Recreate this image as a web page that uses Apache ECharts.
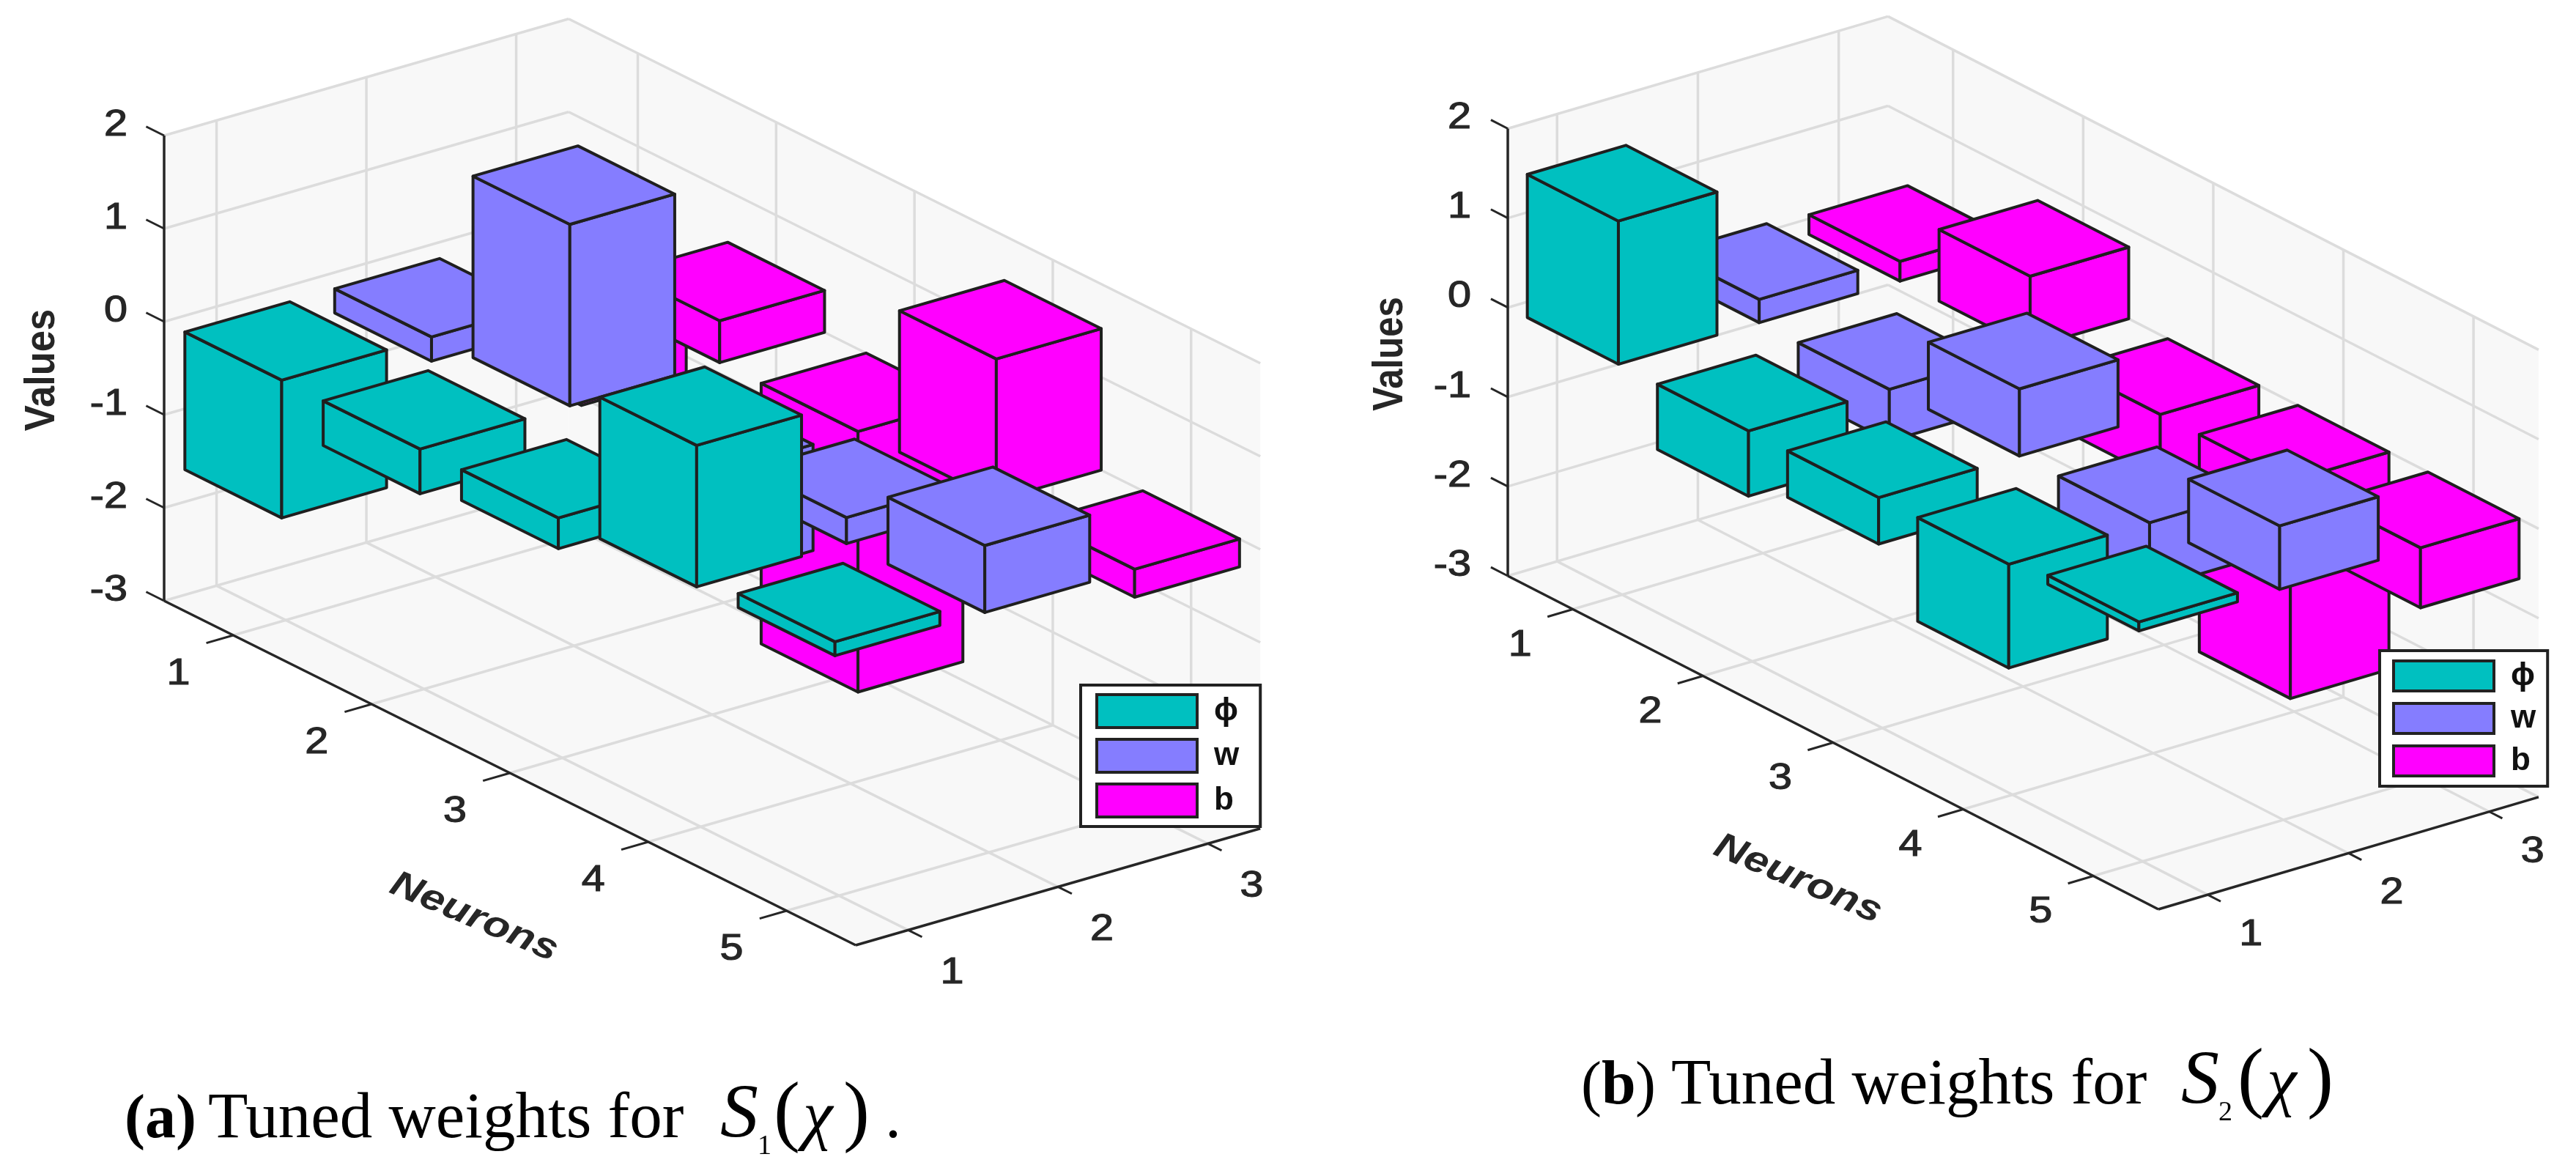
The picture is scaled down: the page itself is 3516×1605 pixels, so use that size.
<!DOCTYPE html>
<html>
<head>
<meta charset="utf-8">
<title>Tuned weights</title>
<style>
  html, body { margin: 0; padding: 0; background: #fff; }
  #chart-container { width: 3516px; height: 1605px; }
</style>
</head>
<body>
<div id="chart-container"></div>
<script src="https://cdn.jsdelivr.net/npm/echarts@6/dist/echarts.min.js"></script>
<script type="text/javascript">
// values, one per neuron
var neurons = [1, 2, 3, 4, 5];
var columns = [1, 2, 3];
var zTicks = [-3, -2, -1, 0, 1, 2];
var seriesNames = ['\u03d5', 'w', 'b'];

var phiS1 = [-1.48, -0.48, -0.33, 1.52, 0.15];
var wS1 = [-0.26, 1.95, -1.14, 0.28, 0.72];
var bS1 = [-1.2, 0.45, -2.8, 1.52, -0.3];

var phiS2 = [1.6, -0.73, -0.52, -1.16, 0.1];
var wS2 = [0.26, -0.58, 0.75, -0.74, 0.71];
var bS2 = [0.22, 0.8, -0.73, -2.43, -0.67];

var colors = ['#00C0C0', '#857DFF', '#FF00FF'];
var edgeColor = '#1f1f1f';
var barWidth = 0.7;
var nRange = [0.5, 5.5];
var cRange = [0.65, 3.35];

// where each 3d box sits on the page
var panels = [
  {
    values: [phiS1, wS1, bS1],
    left: 224, floorY: 820, nDx: 188.8, nDy: 94, cDx: 204.5, cDy: -59, zPx: 127,
    nLabel: [-75, 53], cLabel: [60, 59], zLabel: [-50, -14],
    valuesPos: [58, 505], valuesScale: 1.05, neuronsPos: [647, 1252],
    legend: { left: 1475, top: 935, pad: [11, 29, 11, 20], gap: 12, h: 45 }
  },
  {
    values: [phiS2, wS2, bS2],
    left: 2058, floorY: 786, nDx: 177.6, nDy: 91, cDx: 192.2, cDy: -56.7, zPx: 122.1,
    nLabel: [-72, 50], cLabel: [59, 55], zLabel: [-50, -14],
    valuesPos: [1898, 483], valuesScale: 0.98, neuronsPos: [2454, 1200],
    legend: { left: 3248, top: 888, pad: [12, 16, 12, 17], gap: 13, h: 41 }
  }
];

// oblique projection: (neuron, column, value) -> the hidden 2d axes of the panel
function project(p, n, c, z) {
  var dn = n - nRange[0];
  var dc = c - cRange[0];
  return [
    dn + dc * p.cDx / p.nDx,
    z - dn * p.nDy / p.zPx - dc * p.cDy / p.zPx
  ];
}

function poly(points, fill, stroke, lineWidth) {
  return {
    type: 'polygon',
    shape: { points: points },
    style: { fill: fill, stroke: stroke, lineWidth: lineWidth, lineJoin: 'round' }
  };
}

function line(a, b, color, lineWidth) {
  return {
    type: 'line',
    shape: { x1: a[0], y1: a[1], x2: b[0], y2: b[1] },
    style: { stroke: color, lineWidth: lineWidth }
  };
}

function label(text, x, y, size, opts) {
  opts = opts || {};
  return {
    type: 'text',
    x: x,
    y: y,
    rotation: opts.rotation || 0,
    scaleX: opts.scaleX || 1,
    scaleY: opts.scaleY || 1,
    style: {
      text: text,
      fontSize: size,
      fontFamily: 'Liberation Sans',
      fontWeight: opts.weight || 'normal',
      fontStyle: opts.style || 'normal',
      fill: '#262626',
      stroke: opts.heavy ? '#262626' : null,
      lineWidth: opts.heavy ? 1.2 : 0,
      align: opts.align || 'center',
      verticalAlign: 'middle'
    }
  };
}

// walls, floor, grid lines, axis lines, ticks and their labels
function renderFrame(p, api) {
  var P = function (n, c, z) { return api.coord(project(p, n, c, z)); };
  var n0 = nRange[0], n1 = nRange[1], c0 = cRange[0], c1 = cRange[1];
  var z0 = zTicks[0], z1 = zTicks[zTicks.length - 1];
  var wall = '#F8F8F8', gridLine = '#DCDCDC', axisLine = '#262626';
  var els = [];

  els.push(poly([P(n0, c0, z0), P(n1, c0, z0), P(n1, c1, z0), P(n0, c1, z0)], wall));
  els.push(poly([P(n0, c0, z0), P(n0, c1, z0), P(n0, c1, z1), P(n0, c0, z1)], wall));
  els.push(poly([P(n0, c1, z0), P(n1, c1, z0), P(n1, c1, z1), P(n0, c1, z1)], wall));

  zTicks.forEach(function (z) {
    els.push(line(P(n0, c0, z), P(n0, c1, z), gridLine, 3.5));
    els.push(line(P(n0, c1, z), P(n1, c1, z), gridLine, 3.5));
  });
  neurons.forEach(function (n) {
    els.push(line(P(n, c0, z0), P(n, c1, z0), gridLine, 3.5));
    els.push(line(P(n, c1, z0), P(n, c1, z1), gridLine, 3.5));
  });
  columns.forEach(function (c) {
    els.push(line(P(n0, c, z0), P(n1, c, z0), gridLine, 3.5));
    els.push(line(P(n0, c, z0), P(n0, c, z1), gridLine, 3.5));
  });

  els.push(line(P(n0, c0, z0), P(n0, c0, z1), axisLine, 3.5));
  els.push(line(P(n0, c0, z0), P(n1, c0, z0), axisLine, 3.5));
  els.push(line(P(n1, c0, z0), P(n1, c1, z0), axisLine, 3.5));

  zTicks.forEach(function (z) {
    var a = P(n0, c0, z);
    els.push(line(a, P(n0 - 0.13, c0, z), axisLine, 3));
    els.push(label(String(z), a[0] + p.zLabel[0], a[1] + p.zLabel[1], 50, { align: 'right', scaleX: 1.15, heavy: true }));
  });
  neurons.forEach(function (n) {
    var a = P(n, c0, z0);
    els.push(line(a, P(n, c0 - 0.18, z0), axisLine, 3));
    els.push(label(String(n), a[0] + p.nLabel[0], a[1] + p.nLabel[1], 50, { scaleX: 1.15, heavy: true }));
  });
  columns.forEach(function (c) {
    var a = P(n1, c, z0);
    els.push(line(a, P(n1 + 0.1, c, z0), axisLine, 3));
    els.push(label(String(c), a[0] + p.cLabel[0], a[1] + p.cLabel[1], 50, { scaleX: 1.15, heavy: true }));
  });

  els.push(label('Values', p.valuesPos[0], p.valuesPos[1], 50, { rotation: Math.PI / 2, weight: 'bold', scaleX: p.valuesScale, scaleY: 1.15 }));
  els.push(label('Neurons', p.neuronsPos[0], p.neuronsPos[1], 50, { rotation: -23 * Math.PI / 180, style: 'italic', weight: 'bold', scaleX: 1.2 }));

  return { type: 'group', children: els };
}

// one box: the top and the two faces the viewer can see
function renderBar(p, column, api) {
  var n = api.value(0);
  var v = api.value(1);
  var h = barWidth / 2;
  var top = Math.max(v, 0);
  var bottom = Math.min(v, 0);
  var fill = api.visual('color');
  var P = function (a, b, z) { return api.coord(project(p, a, b, z)); };
  var lw = 4;
  return {
    type: 'group',
    children: [
      poly([P(n - h, column - h, top), P(n + h, column - h, top), P(n + h, column - h, bottom), P(n - h, column - h, bottom)], fill, edgeColor, lw),
      poly([P(n + h, column - h, top), P(n + h, column + h, top), P(n + h, column + h, bottom), P(n + h, column - h, bottom)], fill, edgeColor, lw),
      poly([P(n - h, column - h, top), P(n - h, column + h, top), P(n + h, column + h, top), P(n + h, column - h, top)], fill, edgeColor, lw)
    ]
  };
}

var grids = [], xAxes = [], yAxes = [], series = [], legends = [];

panels.forEach(function (p, i) {
  var nSpan = nRange[1] - nRange[0], cSpan = cRange[1] - cRange[0];
  var width = nSpan * p.nDx + cSpan * p.cDx;
  var zMax = zTicks[zTicks.length - 1];
  var yMax = project(p, nRange[0], cRange[1], zMax)[1];
  var yMin = project(p, nRange[1], cRange[0], zTicks[0])[1];
  var top = p.floorY - (yMax - zTicks[0]) * p.zPx;

  grids.push({ left: p.left, top: top, width: width, height: (yMax - yMin) * p.zPx, show: false });
  xAxes.push({ gridIndex: i, type: 'value', min: 0, max: width / p.nDx, show: false });
  yAxes.push({ gridIndex: i, type: 'value', min: yMin, max: yMax, show: false });

  series.push({
    type: 'custom',
    name: 'frame' + i,
    xAxisIndex: i,
    yAxisIndex: i,
    silent: true,
    data: [[0, 0]],
    renderItem: function (params, api) { return renderFrame(p, api); }
  });

  // far column first so the nearer boxes paint over it
  [2, 1, 0].forEach(function (k) {
    series.push({
      type: 'custom',
      name: seriesNames[k],
      xAxisIndex: i,
      yAxisIndex: i,
      silent: true,
      itemStyle: { color: colors[k] },
      encode: { x: 0, y: 1 },
      data: neurons.map(function (n, j) { return [n, p.values[k][j]]; }),
      renderItem: function (params, api) { return renderBar(p, columns[k], api); }
    });
  });

  legends.push({
    data: seriesNames,
    orient: 'vertical',
    left: p.legend.left,
    top: p.legend.top,
    padding: p.legend.pad,
    itemGap: p.legend.gap,
    itemWidth: 137,
    itemHeight: p.legend.h,
    selectedMode: false,
    backgroundColor: '#fff',
    borderColor: '#222',
    borderWidth: 4,
    borderRadius: 0,
    icon: 'rect',
    itemStyle: { borderColor: '#222', borderWidth: 4 },
    textStyle: {
      fontFamily: 'Liberation Sans',
      fontWeight: 'bold',
      fontSize: 44,
      lineHeight: 30,
      color: '#111',
      padding: [0, 0, 0, 18]
    }
  });
});

// captions under the panels, y is the text baseline
function cap(text, x, y, size, opts) {
  opts = opts || {};
  return {
    type: 'text',
    x: x,
    y: y - 0.34 * size,
    z: 10,
    style: {
      text: text,
      fontFamily: 'Liberation Serif',
      fontSize: size,
      fontWeight: opts.weight || 'normal',
      fontStyle: opts.style || 'normal',
      fill: '#000',
      align: 'left',
      verticalAlign: 'middle'
    }
  };
}

var captions = [
  cap('(a)', 170, 1559, 84, { weight: 'bold' }),
  cap('Tuned weights for', 284, 1559, 89),
  cap('S', 983, 1559, 104, { style: 'italic' }),
  cap('1', 1034, 1578, 38),
  cap('(', 1056, 1559, 108),
  cap('\u03c7', 1096, 1559, 92, { style: 'italic' }),
  cap(')', 1151, 1559, 108),
  cap('.', 1208, 1559, 88),

  cap('(', 2158, 1513, 84),
  cap('b', 2186, 1513, 84, { weight: 'bold' }),
  cap(')', 2232, 1513, 84),
  cap('Tuned weights for', 2281, 1513, 89),
  cap('S', 2977, 1513, 104, { style: 'italic' }),
  cap('2', 3028, 1532, 38),
  cap('(', 3054, 1513, 108),
  cap('\u03c7', 3094, 1513, 92, { style: 'italic' }),
  cap(')', 3149, 1513, 108)
];

var dom = document.getElementById('chart-container');
var myChart = echarts.init(dom, null, { renderer: 'canvas' });

var option = {
  animation: false,
  backgroundColor: '#fff',
  grid: grids,
  xAxis: xAxes,
  yAxis: yAxes,
  legend: legends,
  series: series,
  graphic: { elements: captions }
};

myChart.setOption(option);
window.addEventListener('resize', myChart.resize);
</script>
</body>
</html>
